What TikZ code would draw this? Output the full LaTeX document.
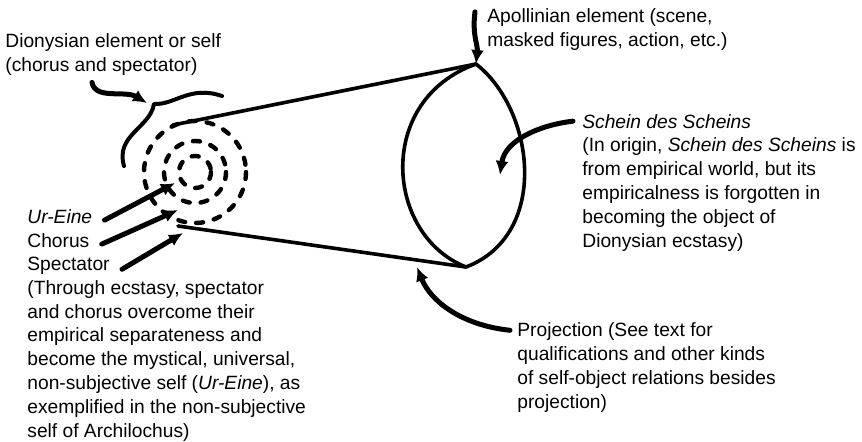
\documentclass[tikz,border=0pt]{standalone}
\usepackage{fontspec}
\setmainfont{Liberation Sans}
\usetikzlibrary{arrows.meta,calc,positioning}
\newcommand{\UrEine}{\textit{Ur-Eine}}
\newcommand{\SdS}{\textit{Schein des Scheins}}

\tikzset{
  note/.style={inner sep=0pt, align=left, font=\fontsize{9.6}{11.9}\selectfont},
  pointer/.style={->, line width=2.5pt, line cap=round},
  outline/.style={line width=1.8pt, line cap=round, line join=round},
  ring/.style={line width=2.2pt, dash pattern=on 3.5pt off 5.5pt, line cap=round}
}

\begin{document}
\begin{tikzpicture}[>={Latex[length=7pt,width=6.5pt]}, x=0.5pt, y=-0.5pt]
            \useasboundingbox (0,0) rectangle (862,441);

            % labels (base = last line)
            \draw(5,71) node[note, anchor=base west] (dion) {Dionysian element or self\\(chorus and spectator)};
            \draw(487,46) node[note, anchor=base west] (apoll) {Apollinian element (scene,\\masked figures, action, etc.)};
            \draw(582,128) node[note, anchor=base west] (schein) {\SdS};
            \draw(582,247) node[note, anchor=base west] (origin) {(In origin, \SdS{} is\\from empirical world, but its\\empiricalness is forgotten in\\becoming the object of\\Dionysian ecstasy)};
            \draw(517,408) node[note, anchor=base west] (proj) {Projection (See text for\\qualifications and other kinds\\of self-object relations besides\\projection)};
            \draw(27,223) node[note, anchor=base west] (ureine) {\UrEine};
            \draw(27,247) node[note, anchor=base west] (chorus) {Chorus};
            \draw(27,270) node[note, anchor=base west] (spect) {Spectator};
            \draw(27,437) node[note, anchor=base west] (ecstasy) {(Through ecstasy, spectator\\and chorus overcome their\\empirical separateness and\\become the mystical, universal,\\non-subjective self (\UrEine), as\\exemplified in the non-subjective\\self of Archilochus)};

            % self and lens
            \coordinate (self) at (195,172);
            \coordinate (lenstop) at (476,64);
            \coordinate (lensbot) at (466,267);
            \coordinate (rimtop) at (173,125);
            \coordinate (rimbot) at (178,226);
            \foreach \r in {16,31,51}
                \draw[ring] (self) circle[radius=\r];
            \draw[outline] (lenstop) .. controls (375,100) and (385,235) .. (lensbot)
                .. controls (550,235) and (535,110) .. (lenstop);
            \draw[outline] (rimtop) -- (lenstop);
            \draw[outline] (rimbot) -- (lensbot);
            \draw[outline, line width=2pt] (124,166) .. controls (115,135) and (150,128) .. (154,104)
                .. controls (175,105) and (190,85) .. (222,96);

            % pointers
            \coordinate (diontip) at (147,103);
            \coordinate (scheintip) at (500,175);
            \coordinate (projtip) at (417,267);
            \coordinate (uretip) at (175,183);
            \coordinate (chotip) at (178,210);
            \coordinate (spectip) at (183,233);
            \draw[pointer] ([shift={(43.5pt,-3.5pt)}]dion.south west) .. controls (95,100) and (125,90) .. (diontip);
            \draw[pointer] ([shift={(-6pt,-2pt)}]apoll.north west) .. controls (472,35) and (478,45) .. (lenstop);
            \draw[pointer] ([xshift=-4.5pt]schein.west) .. controls (540,125) and (505,140) .. (scheintip);
            \draw[pointer] ([shift={(-3.5pt,-4pt)}]proj.north west) .. controls (460,325) and (430,300) .. (projtip);
            \draw[pointer] ([shift={(6pt,-2pt)}]ureine.east) -- (uretip);
            \draw[pointer] ([shift={(6pt,-2pt)}]chorus.east) -- (chotip);
            \draw[pointer] ([shift={(6pt,-2pt)}]spect.east) -- (spectip);

        \end{tikzpicture}
\end{document}
